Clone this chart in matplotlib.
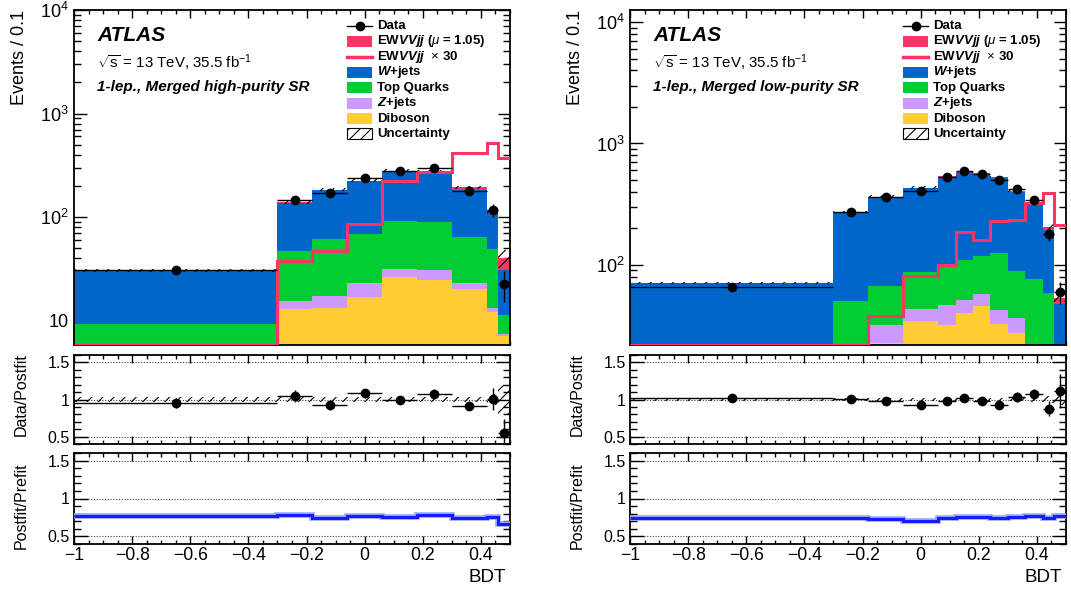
import numpy as np
import matplotlib
matplotlib.use("Agg")
import matplotlib.pyplot as plt
from matplotlib.patches import Rectangle
from matplotlib.lines import Line2D
from matplotlib.ticker import MultipleLocator, FuncFormatter, NullFormatter, LogLocator

plt.rcParams['font.family'] = ['Liberation Sans', 'DejaVu Sans']
plt.rcParams['mathtext.fontset'] = 'custom'
plt.rcParams['mathtext.rm'] = 'Liberation Sans'
plt.rcParams['mathtext.it'] = 'Liberation Sans:italic'
plt.rcParams['mathtext.bf'] = 'Liberation Sans:bold'
plt.rcParams['mathtext.bfit'] = 'Liberation Sans:bold:italic'
plt.rcParams['hatch.linewidth'] = 0.8

# ---------------- data: merged high-purity SR ----------------
edges_hp = [-1, -0.3, -0.18, -0.06, 0.06, 0.18, 0.30, 0.42, 0.46, 0.5]
diboson_hp = [0.3, 12.8, 13.2, 16.9, 26.3, 24.8, 20.3, 12.0, 7.1]
zjets_hp = [0.4, 2.8, 4.2, 6.1, 5.5, 6.2, 2.7, 1.2, 0.3]
top_hp = [8.6, 31.5, 43.6, 45.0, 59.4, 59.0, 40.8, 36.0, 3.8]
wjets_hp = [21.1, 89.9, 121, 154, 181.8, 175, 119.2, 59.8, 19.8]
ewk_hp = [0.05, 1.3, 1.6, 2.9, 7.5, 9.0, 10, 8, 9]
ewk30_hp = [2, 37.7, 47.4, 85.7, 225, 272, 419, 523, 375]
data_hp = [30.5, 147, 171, 240, 279, 298, 179, 117, 22.5]
err_hp = [2.1, 11.1, 11.9, 14.1, 15.2, 15.8, 12.2, 17, 7.5]
unc_hp = [0.03, 0.035, 0.03, 0.03, 0.03, 0.03, 0.035, 0.08, 0.2]
ratio_hp = [0.955, 1.05, 0.923, 1.081, 0.99, 1.08, 0.914, 1.01, 0.554]
postpre_hp = [0.768, 0.777, 0.746, 0.768, 0.759, 0.781, 0.741, 0.75, 0.665]

# ---------------- data: merged low-purity SR ----------------
edges_lp = [-1, -0.3, -0.18, -0.06, 0.06, 0.12, 0.18, 0.24, 0.30, 0.36, 0.42, 0.46, 0.5]
diboson_lp = [3, 8, 22.7, 34.1, 31.6, 40, 46.1, 32.5, 27.4, 12, 6, 2]
zjets_lp = [3, 6, 8.9, 9.2, 14.6, 11.5, 11.4, 10, 9.1, 4, 3, 1]
top_lp = [12, 36.7, 34.7, 43.8, 55.8, 58.5, 60.5, 83.5, 51.5, 60.6, 49.2, 11]
wjets_lp = [52.5, 223.3, 297.7, 342.9, 431, 463, 447, 394, 310, 233.4, 133.8, 33.7]
ewk_lp = [0.1, 0.4, 1.3, 2.7, 3.3, 6.3, 5.4, 7.6, 7.8, 10.6, 13, 5.6]
ewk30_lp = [5, 12, 37.5, 80.7, 98.8, 188, 161, 228, 235, 320, 394, 211]
data_lp = [66, 274, 361, 402, 528, 591, 557, 498, 425, 340, 178, 59.5]
err_lp = [3.1, 15.1, 17.3, 18.3, 29.7, 31.4, 30.5, 28.8, 26.6, 23.8, 21.1, 12.2]
unc_lp = [0.025, 0.02, 0.02, 0.025, 0.02, 0.02, 0.02, 0.02, 0.025, 0.03, 0.05, 0.08]
ratio_lp = [1.014, 1.005, 0.982, 0.923, 0.977, 1.023, 0.986, 0.932, 1.036, 1.068, 0.878, 1.113]
postpre_lp = [0.741, 0.738, 0.732, 0.70, 0.746, 0.754, 0.75, 0.741, 0.759, 0.768, 0.746, 0.768]

legend_labels = ['Data', r'EW$\mathbfit{VVjj}$ ($\mu$ = 1.05)', r'EW$\mathbfit{VVjj}$  $\times$ 30',
                 r'$\mathbfit{W}$+jets', 'Top Quarks', r'$\mathbfit{Z}$+jets', 'Diboson', 'Uncertainty']

C_EWK = '#ff3366'
C_W = '#0066cc'
C_TOP = '#00cc33'
C_Z = '#cc99ff'
C_VV = '#ffcc33'
C_PP = '#1a1aff'

W, H = 1071, 595
fig = plt.figure(figsize=(W / 100, H / 100), dpi=100)


def px_axes(x0, y0, w, h):
    return fig.add_axes([x0 / W, 1 - (y0 + h) / H, w / W, h / H])


def logfmt(v, pos):
    if v <= 0:
        return ''
    e = int(round(np.log10(v)))
    if abs(v - 10 ** e) > 1e-6 * v:
        return ''
    return '10' if e == 1 else r'$10^{%d}$' % e


def xfmt(v, pos):
    v = round(v, 6)
    if v == 0:
        return '0'
    return ('%g' % v).replace('-', '\u2212')


def style_x(ax, labels):
    ax.set_xlim(-1, 0.5)
    ax.xaxis.set_major_locator(MultipleLocator(0.2))
    ax.xaxis.set_minor_locator(MultipleLocator(0.05))
    ax.xaxis.set_major_formatter(FuncFormatter(xfmt))
    ax.tick_params(axis='x', which='both', direction='in', top=True, bottom=True,
                   labelbottom=labels, labelsize=12.7, pad=2.5, width=1.0)
    ax.tick_params(axis='x', which='major', length=6)
    ax.tick_params(axis='x', which='minor', length=3)
    for s in ax.spines.values():
        s.set_linewidth(1.3)


def draw_region(x0, edges, dib, zj, top, wj, ewk, ewk30, data, err, unc, ratio, postpre,
                ylim, region):
    edges = np.asarray(edges, float)
    centers = 0.5 * (edges[1:] + edges[:-1])
    halfw = 0.5 * (edges[1:] - edges[:-1])
    data = np.asarray(data, float)
    err = np.asarray(err, float)
    unc = np.asarray(unc, float)

    # ---------------- main panel ----------------
    ax = px_axes(x0, 10, 436, 335)
    ax.set_yscale('log')
    base = np.full(len(centers), 1e-3)
    for vals, col in [(dib, C_VV), (zj, C_Z), (top, C_TOP), (wj, C_W), (ewk, C_EWK)]:
        topv = base + np.asarray(vals, float)
        ax.stairs(topv, edges, baseline=base, fill=True, facecolor=col, edgecolor='none', lw=0, zorder=2)
        base = topv
    total = base
    ax.stairs(total * (1 + unc), edges, baseline=total * (1 - unc), fill=True, facecolor='none',
              edgecolor='k', hatch='///', lw=0, zorder=3)
    ax.stairs(np.maximum(np.asarray(ewk30, float), ylim[0]), edges, baseline=None, color=C_EWK,
              lw=2.2, zorder=4)
    ax.errorbar(centers, data, yerr=err, xerr=halfw, fmt='o', color='k', ms=6, elinewidth=1,
                capsize=0, zorder=5)
    ax.set_ylim(*ylim)
    ax.yaxis.set_major_locator(LogLocator(base=10, numticks=10))
    ax.yaxis.set_minor_locator(LogLocator(base=10, subs=np.arange(2, 10), numticks=100))
    ax.yaxis.set_major_formatter(FuncFormatter(logfmt))
    ax.yaxis.set_minor_formatter(NullFormatter())
    ax.tick_params(axis='y', which='both', direction='in', left=True, right=True, labelsize=13,
                   pad=4, width=1.0)
    ax.tick_params(axis='y', which='major', length=9)
    ax.tick_params(axis='y', which='minor', length=5)
    style_x(ax, False)

    ax.text(0.053, 0.925, 'ATLAS', transform=ax.transAxes, fontsize=15, fontweight='bold',
            fontstyle='italic', va='center', ha='left')
    ax.text(0.053, 0.842, r'$\sqrt{\mathrm{s}}$ = 13 TeV, 35.5 fb$^{-1}$', transform=ax.transAxes,
            fontsize=10.8, va='center', ha='left')
    ax.text(0.053, 0.770, region, transform=ax.transAxes, fontsize=11, fontweight='bold',
            fontstyle='italic', va='center', ha='left')

    # legend (drawn by hand)
    lx0 = (347 - 74) / 436
    lx1 = (372 - 74) / 436
    ltx = (377 - 74) / 436
    hh = 5.5 / 335
    for i, lab in enumerate(legend_labels):
        ypx = 25.7 + 15.47 * i
        y = 1 - (ypx - 10) / 335
        if i == 0:
            ax.add_line(Line2D([lx0, lx1], [y, y], color='k', lw=1, transform=ax.transAxes))
            ax.add_line(Line2D([(lx0 + lx1) / 2], [y], marker='o', ms=6, color='k', transform=ax.transAxes))
        elif i == 2:
            ax.add_line(Line2D([lx0, lx1], [y, y], color=C_EWK, lw=2.5, transform=ax.transAxes))
        else:
            col = {1: C_EWK, 3: C_W, 4: C_TOP, 5: C_Z, 6: C_VV}.get(i)
            if i == 7:
                ax.add_patch(Rectangle((lx0, y - hh), lx1 - lx0, 2 * hh, facecolor='none', edgecolor='k',
                                       hatch='///', lw=0.8, transform=ax.transAxes))
            else:
                ax.add_patch(Rectangle((lx0, y - hh), lx1 - lx0, 2 * hh, facecolor=col, edgecolor='none',
                                       transform=ax.transAxes))
        ax.text(ltx, y, lab, transform=ax.transAxes, fontsize=9.5, fontweight='bold', va='center', ha='left')

    # ---------------- Data / Postfit ----------------
    ax2 = px_axes(x0, 355, 436, 89)
    ax2.stairs(1 + unc, edges, baseline=1 - unc, fill=True, facecolor='none', edgecolor='k',
               hatch='///', lw=0, zorder=2)
    ratio = np.asarray(ratio, float)
    ax2.errorbar(centers, ratio, yerr=ratio * err / data, xerr=halfw, fmt='o', color='k', ms=6,
                 elinewidth=1, capsize=0, zorder=5)
    # ---------------- Postfit / Prefit ----------------
    ax3 = px_axes(x0, 453, 436, 91)
    ax3.stairs(np.asarray(postpre, float), edges, baseline=None, color='#8fa8ff', lw=4, zorder=3)
    ax3.stairs(np.asarray(postpre, float), edges, baseline=None, color=C_PP, lw=2.2, zorder=4)

    for a, lab in [(ax2, False), (ax3, True)]:
        a.set_ylim(0.4, 1.6)
        for yl in (0.5, 1.0, 1.5):
            a.axhline(yl, color='0.25', lw=0.8, ls=(0, (1, 1.5)), zorder=1)
        a.yaxis.set_major_locator(MultipleLocator(0.5))
        a.yaxis.set_minor_locator(MultipleLocator(0.1))
        a.yaxis.set_major_formatter(FuncFormatter(lambda v, p: '%g' % round(v, 3)))
        a.tick_params(axis='y', which='both', direction='in', left=True, right=True, labelsize=11.5,
                      pad=3, width=1.0)
        a.tick_params(axis='y', which='major', length=10)
        a.tick_params(axis='y', which='minor', length=5)
        style_x(a, lab)

    # axis titles
    fig.text((x0 - 54) / W, 1 - 10 / H, 'Events / 0.1', rotation=90, ha='center', va='top', fontsize=13)
    fig.text((x0 - 53) / W, 1 - 395 / H, 'Data/Postfit', rotation=90, ha='center', va='center', fontsize=11.5)
    fig.text((x0 - 53) / W, 1 - 506 / H, 'Postfit/Prefit', rotation=90, ha='center', va='center', fontsize=11.5)
    fig.text((x0 + 432) / W, 1 - 577 / H, 'BDT', ha='right', va='center', fontsize=13.5)


draw_region(74, edges_hp, diboson_hp, zjets_hp, top_hp, wjets_hp, ewk_hp, ewk30_hp, data_hp, err_hp,
            unc_hp, ratio_hp, postpre_hp, (5.8, 1e4), '1-lep., Merged high-purity SR')
draw_region(630, edges_lp, diboson_lp, zjets_lp, top_lp, wjets_lp, ewk_lp, ewk30_lp, data_lp, err_lp,
            unc_lp, ratio_lp, postpre_lp, (21.8, 12600), '1-lep., Merged low-purity SR')

fig.savefig('out.png', dpi=100)
